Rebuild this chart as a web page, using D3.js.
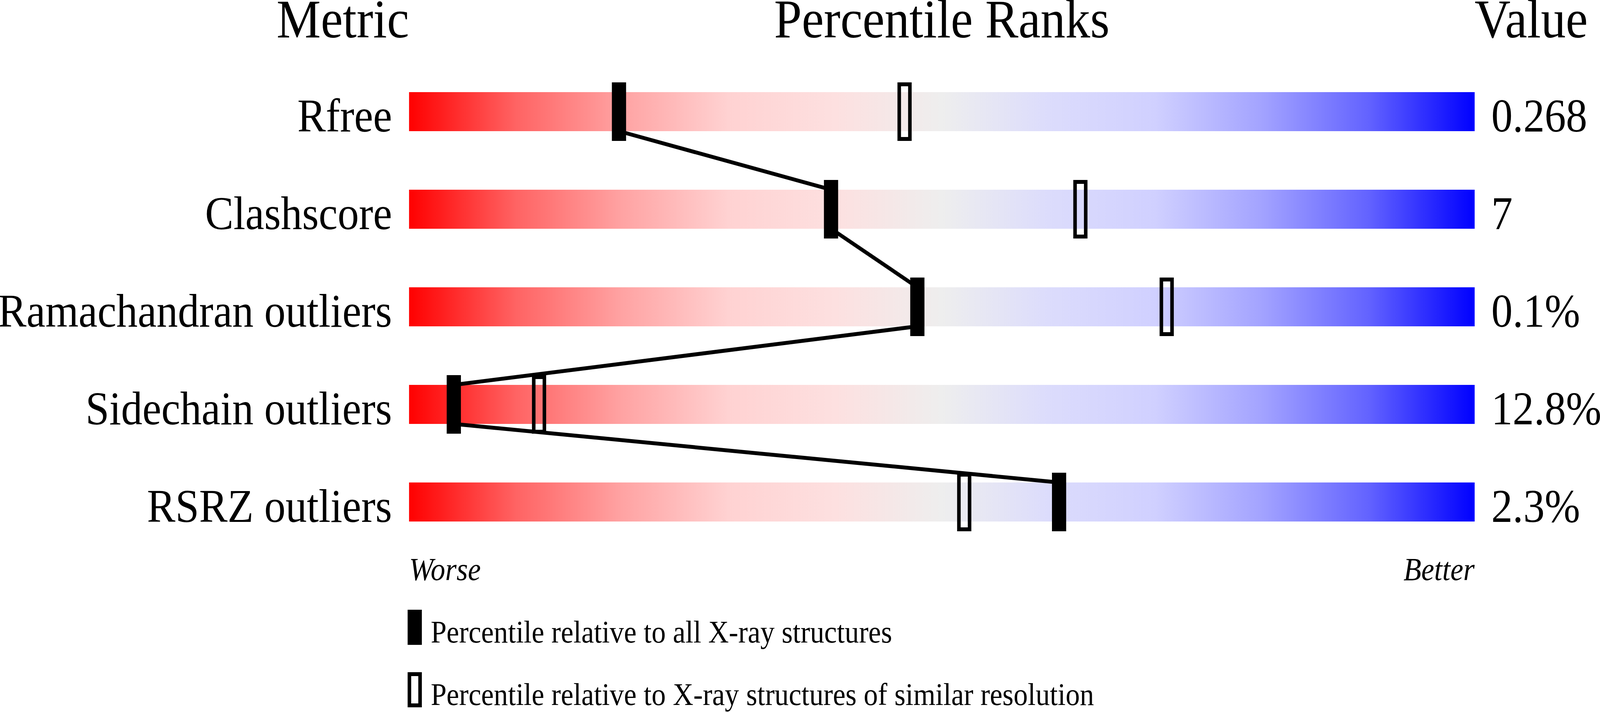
<!DOCTYPE html>
<html>
<head>
<meta charset="utf-8">
<script src="https://cdn.jsdelivr.net/npm/d3@7"></script>
<style>
  html, body { margin: 0; padding: 0; width: 100%; height: 100%; overflow: hidden; background: #fff; }
  svg { display: block; width: 100%; height: 100%; }
  text { font-family: "Liberation Serif", "DejaVu Serif", serif; fill: #000; }
</style>
</head>
<body>
<svg id="slider"></svg>
<script>
(function() {

  // data
  var metrics = ["Rfree", "Clashscore", "Ramachandran outliers", "Sidechain outliers", "RSRZ outliers"];
  var values = ["0.268", "7", "0.1%", "12.8%", "2.3%"];
  var absolutePct = [19.7, 39.6, 47.7, 4.2, 61.0];   // vs all X-ray structures (filled)
  var relativePct = [46.5, 63.0, 71.1, 12.2, 52.1];  // vs similar resolution (open)
  var headers = ["Metric", "Percentile Ranks", "Value"];
  var legendLabels = ["Percentile relative to all X-ray structures",
    "Percentile relative to X-ray structures of similar resolution"];

  // red -> grey -> blue
  var gradOffsets = [0, 10, 20, 30, 40, 50, 60, 70, 80, 90, 100];
  var gradColors = ["#ff0000", "#ff6363", "#ffa3a3", "#ffd2d2", "#fde0e0", "#eeeeee",
    "#dcdcfc", "#d0d0ff", "#a3a3ff", "#6363ff", "#0000ff"];

  var W = 4506, H = 1824;
  var barH = 100, markW = 40, markOver = 25;

  // drawn in a fixed 4506x1824 space, stretched to whatever the window is
  var svg = d3.select("#slider")
      .attr("viewBox", "0 0 " + W + " " + H)
      .attr("preserveAspectRatio", "none");

  var x = d3.scaleLinear().domain([0, 100]).range([1152, 4153]);
  var y = d3.scalePoint().domain(metrics).range([236, 1236]);

  var grad = svg.append("defs").append("linearGradient")
      .attr("id", "rank-grad")
      .attr("x1", "0%").attr("x2", "100%").attr("y1", "0%").attr("y2", "0%");
  grad.selectAll("stop")
      .data(gradOffsets)
    .enter().append("stop")
      .attr("offset", function(d) { return d + "%"; })
      .attr("stop-color", function(d, i) { return gradColors[i]; });

  // headers
  svg.append("text")
      .attr("x", x(0)).attr("y", 96)
      .attr("text-anchor", "end")
      .style("font-size", "140px")
      .text(headers[0]);
  svg.append("text")
      .attr("x", x(50)).attr("y", 96)
      .attr("text-anchor", "middle")
      .style("font-size", "140px")
      .text(headers[1]);
  svg.append("text")
      .attr("x", x(100)).attr("y", 96)
      .attr("text-anchor", "start")
      .style("font-size", "140px")
      .text(headers[2]);

  // bars
  svg.selectAll("rect.bar")
      .data(metrics)
    .enter().append("rect")
      .attr("class", "bar")
      .attr("x", x(0))
      .attr("y", function(d) { return y(d); })
      .attr("width", x(100) - x(0))
      .attr("height", barH)
      .style("fill", "url(#rank-grad)");

  // metric names and values
  svg.selectAll("text.metric")
      .data(metrics)
    .enter().append("text")
      .attr("class", "metric")
      .attr("x", x(0) - 48)
      .attr("y", function(d) { return y(d) + barH + 1; })
      .attr("text-anchor", "end")
      .style("font-size", "120px")
      .text(function(d) { return d; });

  svg.selectAll("text.value")
      .data(values)
    .enter().append("text")
      .attr("class", "value")
      .attr("x", x(100) + 47)
      .attr("y", function(d, i) { return y(metrics[i]) + barH + 1; })
      .attr("text-anchor", "start")
      .style("font-size", "120px")
      .text(function(d) { return d; });

  // connecting line: bottom of one filled marker to top of the next
  var pts = [];
  absolutePct.forEach(function(p, i) {
    var top = y(metrics[i]);
    if (i > 0) pts.push([x(p), top]);
    if (i < absolutePct.length - 1) pts.push([x(p), top + barH]);
  });
  svg.append("path")
      .attr("d", d3.line()(pts))
      .style("fill", "none")
      .style("stroke", "#000")
      .style("stroke-width", "10px");

  // open markers (similar resolution)
  svg.selectAll("rect.rel")
      .data(relativePct)
    .enter().append("rect")
      .attr("class", "rel")
      .attr("x", function(d) { return x(d) - markW / 2 + 5; })
      .attr("y", function(d, i) { return y(metrics[i]) - markOver + 5; })
      .attr("width", markW - 10)
      .attr("height", barH + 2 * markOver - 10)
      .style("fill", "none")
      .style("stroke", "#000")
      .style("stroke-width", "10px");

  // filled markers (all X-ray)
  svg.selectAll("rect.abs")
      .data(absolutePct)
    .enter().append("rect")
      .attr("class", "abs")
      .attr("x", function(d) { return x(d) - markW / 2; })
      .attr("y", function(d, i) { return y(metrics[i]) - markOver; })
      .attr("width", markW)
      .attr("height", barH + 2 * markOver)
      .style("fill", "#000");

  // worse / better
  svg.append("text")
      .attr("x", x(0)).attr("y", 1486)
      .attr("text-anchor", "start")
      .style("font-size", "82px")
      .style("font-style", "italic")
      .text("Worse");
  svg.append("text")
      .attr("x", x(100)).attr("y", 1486)
      .attr("text-anchor", "end")
      .style("font-size", "82px")
      .style("font-style", "italic")
      .text("Better");

  // legend
  var legend = svg.selectAll("g.legend")
      .data(legendLabels)
    .enter().append("g")
      .attr("class", "legend")
      .attr("transform", function(d, i) { return "translate(" + 1148 + "," + (1562 + i * 160) + ")"; });

  legend.append("rect")
      .attr("x", function(d, i) { return i ? 5 : 0; })
      .attr("y", function(d, i) { return i ? 5 : 0; })
      .attr("width", function(d, i) { return i ? 30 : 40; })
      .attr("height", function(d, i) { return i ? 80 : 90; })
      .style("fill", function(d, i) { return i ? "none" : "#000"; })
      .style("stroke", "#000")
      .style("stroke-width", function(d, i) { return i ? "10px" : "0px"; });

  legend.append("text")
      .attr("x", 65)
      .attr("y", 84)
      .style("font-size", "80px")
      .text(function(d) { return d; });

})();
</script>
</body>
</html>
